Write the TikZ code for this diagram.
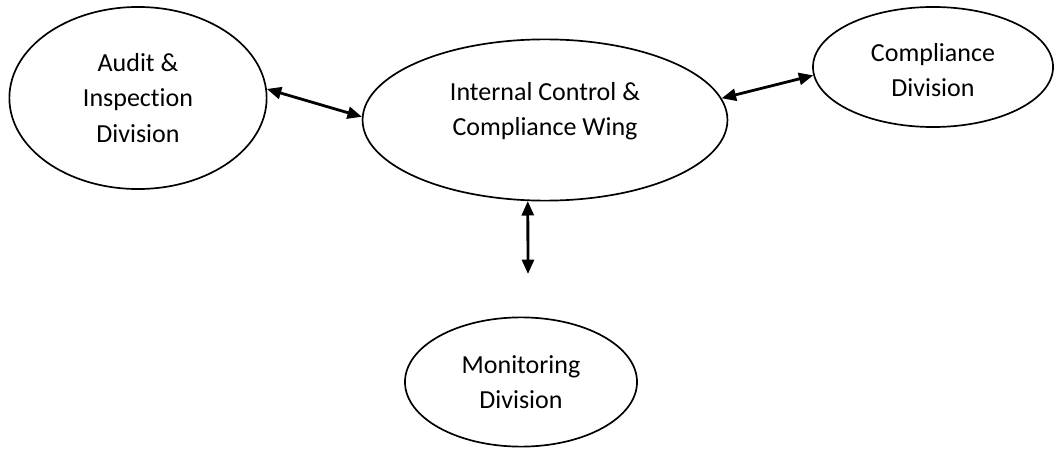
\documentclass[tikz,border=0pt]{standalone}
\usepackage{fontspec}
\setmainfont{Carlito}[Ligatures=NoCommon]
\usepackage{tikz}
\usetikzlibrary{arrows.meta, shapes.geometric}

\begin{document}
\begin{tikzpicture}[
    x=0.025cm, y=-0.025cm,
    unit/.style={draw, ellipse, line width=1.2pt, inner sep=0pt, align=center, font=\fontsize{18.5}{25}\selectfont},
    link/.style={{Triangle[length=0.36cm, width=0.3cm]}-{Triangle[length=0.36cm, width=0.3cm]}, line width=2pt}
]
\useasboundingbox (0,0) rectangle (1056,452);

\node[unit, minimum width=6.43cm, minimum height=4.55cm] (audit) at (138,98) {Audit \&\\Inspection\\Division};
\node[unit, minimum width=9.12cm, minimum height=4.03cm, text depth=0.55cm] (wing) at (545,120) {Internal Control \&\\Compliance Wing};
\node[unit, minimum width=6.0cm, minimum height=3.0cm, text height=1.5cm] (comp) at (933,67) {Compliance\\Division};
\node[unit, minimum width=5.8cm, minimum height=3.23cm] (mon) at (521,382) {Monitoring\\Division};
\coordinate (montip) at (528,274);

\draw[link] (audit.4) -- (wing.179);
\draw[link] (wing.7) -- (comp.184);
\draw[link] (wing.258) -- (montip);

\end{tikzpicture}
\end{document}
